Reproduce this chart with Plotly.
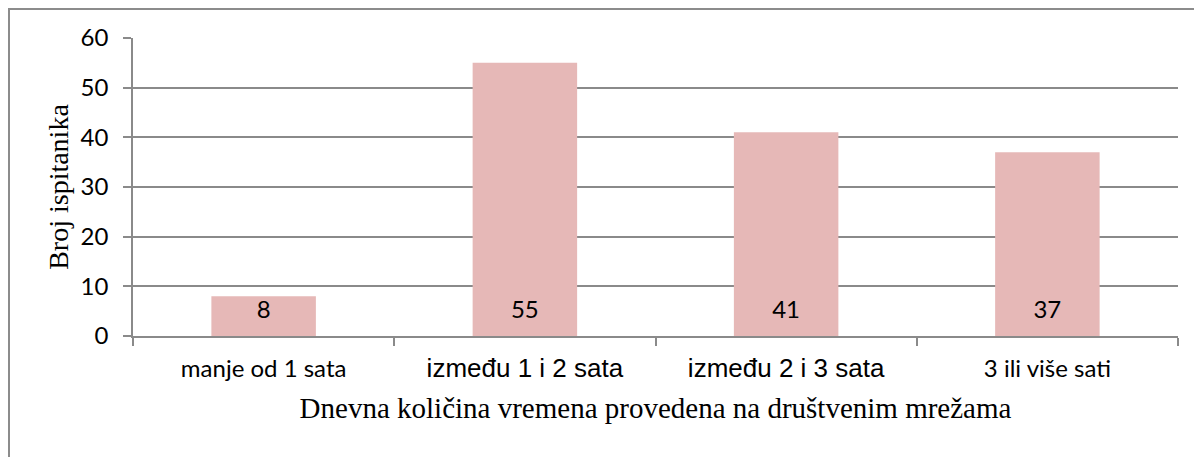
import plotly.graph_objects as go

# ---- data ----
categories = ["manje od 1 sata", "između 1 i 2 sata", "između 2 i 3 sata", "3 ili više sati"]
values = [8, 55, 41, 37]
y_ticks = [0, 10, 20, 30, 40, 50, 60]
x_title = "Dnevna količina vremena provedena na društvenim mrežama"
y_title = "Broj ispitanika"

# ---- style ----
OFF = 8  # page body margin of the browser
W, H = 1202 - OFF, 457 - OFF
ML, MR, MT, MB = 133 - OFF, 24, 38 - OFF, 121
GRID = "#8A8A8A"
BAR = "#E6B8B7"
CAL = "Lato, 'Open Sans', sans-serif"
ARI = "'Liberation Sans', Arial, sans-serif"
SER = "'Liberation Serif', 'Times New Roman', serif"
label_fonts = [(CAL, 24), (ARI, 26), (ARI, 26), (CAL, 24)]
LABEL_Y = 4.8

ticktext = [
    f'<span style="font-family:{f.replace(chr(39), "")};font-size:{s}px">{c}</span>'
    for c, (f, s) in zip(categories, label_fonts)
]

fig = go.Figure()
fig.add_trace(go.Bar(
    x=categories, y=values, marker=dict(color=BAR, line=dict(width=0)),
    hoverinfo="skip", showlegend=False,
))
fig.add_trace(go.Scatter(
    x=categories, y=[LABEL_Y] * len(values), mode="text",
    text=[str(v) for v in values],
    textfont=dict(family=CAL, size=24, color="#000000"),
    hoverinfo="skip", showlegend=False,
))

pw = W - ML - MR
ph = H - MT - MB
fig.add_shape(
    type="rect", xref="paper", yref="paper",
    x0=(1 - ML) / pw, x1=(1191 - ML) / pw,
    y0=(H - MB - 470) / ph, y1=(H - MB - 1) / ph,
    line=dict(color="#8C8C8C", width=2), fillcolor="rgba(0,0,0,0)", layer="below",
)

fig.update_layout(
    width=W, height=H, autosize=False,
    margin=dict(l=ML, r=MR, t=MT, b=MB, pad=0),
    paper_bgcolor="white", plot_bgcolor="white",
    bargap=0.6,
    xaxis=dict(
        type="category", tickmode="array", tickvals=categories, ticktext=ticktext,
        showline=True, linecolor=GRID, linewidth=1.5,
        ticks="outside", ticklen=8, tickcolor=GRID, tickwidth=1.5,
        tickson="boundaries", showgrid=False, automargin=False,
        ticklabelstandoff=10,
        tickfont=dict(family=CAL, size=24, color="#000000"),
        title=dict(text=x_title, font=dict(family=SER, size=29, color="#000000"), standoff=16),
    ),
    yaxis=dict(
        range=[0, 60], tickmode="array", tickvals=y_ticks,
        showline=True, linecolor=GRID, linewidth=1.5,
        ticks="outside", ticklen=8, tickcolor=GRID, tickwidth=1.5,
        showgrid=True, gridcolor=GRID, gridwidth=1.5, zeroline=False,
        automargin=False, ticklabelstandoff=10,
        tickfont=dict(family=CAL, size=24, color="#000000"),
        title=dict(text=y_title, font=dict(family=SER, size=28, color="#000000"), standoff=4),
    ),
)

fig.write_html("out.html")
